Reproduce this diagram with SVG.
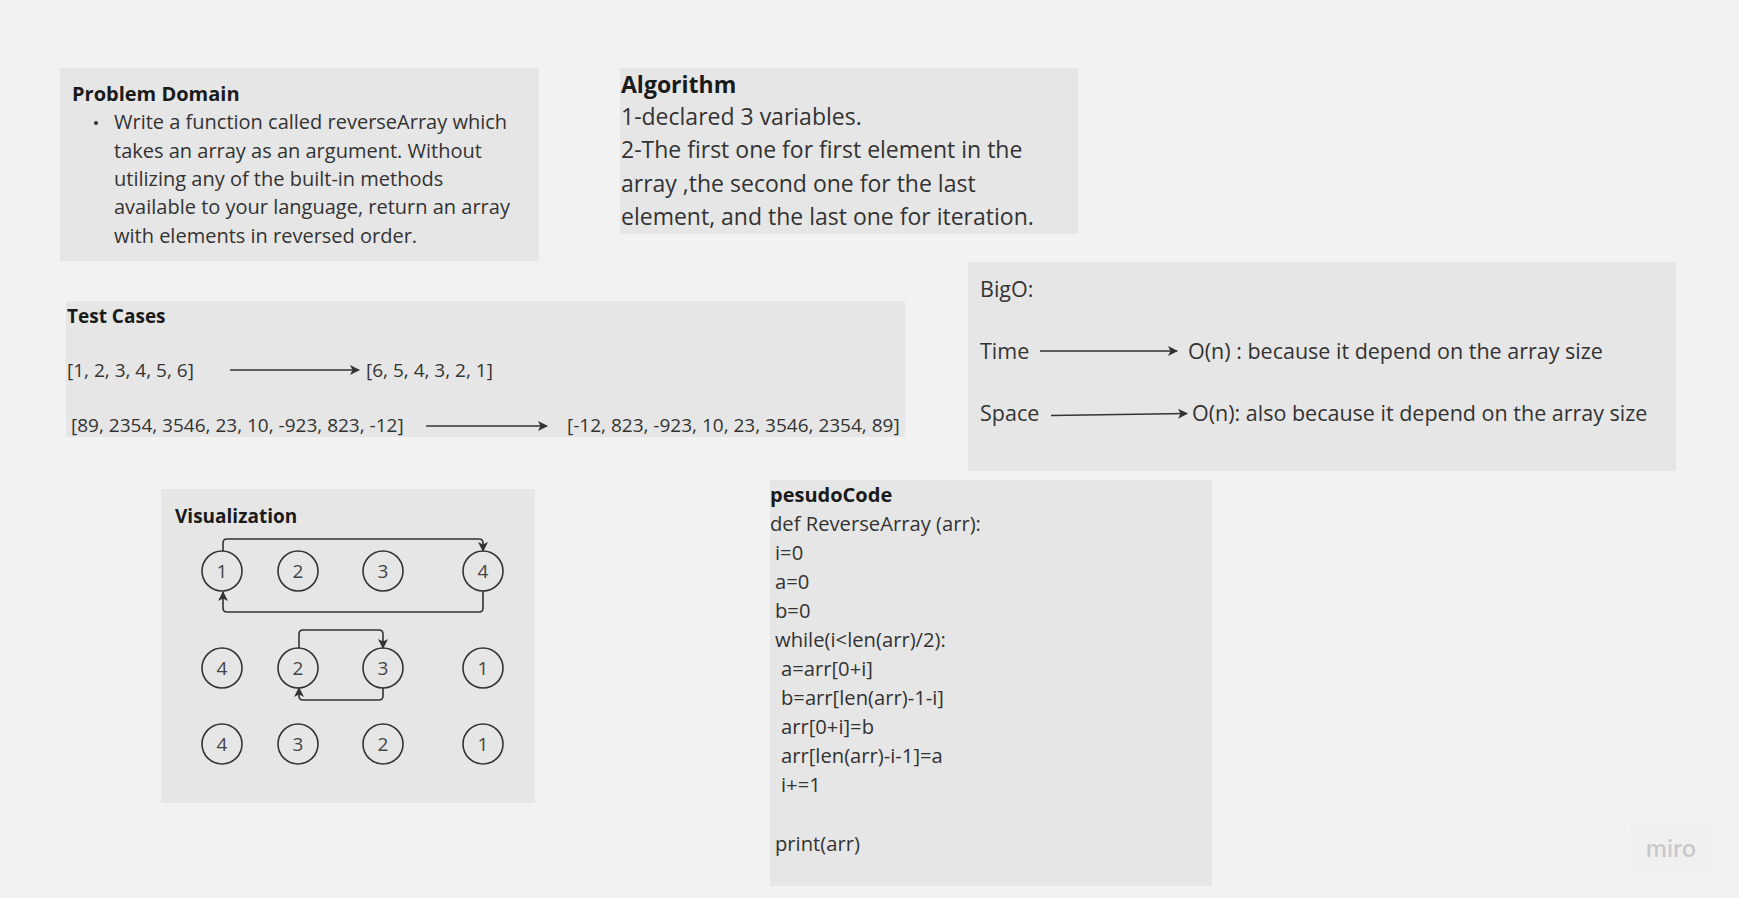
<svg xmlns="http://www.w3.org/2000/svg" width="1739" height="898" viewBox="0 0 1739 898">
<style>
text{font-family:"Open Sans","Noto Sans","DejaVu Sans",sans-serif;fill:#333333}
.title{font-weight:bold;font-size:19px;fill:#1a1a1a}
.body{font-size:20px}
.alg{font-size:23px}
.big{font-size:21.5px}
.tc{font-size:19px}
.code{font-size:20.2px}
.num{font-size:19px;text-anchor:middle;fill:#444444}
.box{fill:#e6e6e6}
.circ{fill:none;stroke:#333333;stroke-width:1.6}
.conn{fill:none;stroke:#333333;stroke-width:1.6;stroke-linejoin:round}
</style>
<defs>
<marker id="ah" viewBox="0 0 10 10" refX="9" refY="5" markerWidth="10" markerHeight="10" markerUnits="userSpaceOnUse" orient="auto">
<path d="M0,0 L10,5 L0,10 L2.5,5 Z" fill="#333333"/>
</marker>
</defs>
<rect x="0" y="0" width="1739" height="898" fill="#f2f2f2"/>

<g id="problem-domain">
<rect class="box" x="60" y="68" width="479" height="193"/>
<text class="title" x="72" y="101" style="font-size:20px">Problem Domain</text>
<circle cx="96" cy="123" r="2" fill="#333333"/>
<text class="body" x="114" y="129">Write a function called reverseArray which</text>
<text class="body" x="114" y="158">takes an array as an argument. Without</text>
<text class="body" x="114" y="186">utilizing any of the built-in methods</text>
<text class="body" x="114" y="214">available to your language, return an array</text>
<text class="body" x="114" y="243">with elements in reversed order.</text>
</g>

<g id="algorithm">
<rect class="box" x="620" y="68" width="458" height="166"/>
<text class="title" x="621" y="93" style="font-size:23px">Algorithm</text>
<text class="alg" x="621" y="125">1-declared 3 variables.</text>
<text class="alg" x="621" y="158">2-The first one for first element in the</text>
<text class="alg" x="621" y="192">array ,the second one for the last</text>
<text class="alg" x="621" y="225">element, and the last one for iteration.</text>
</g>

<g id="test-cases">
<rect class="box" x="66" y="301" width="839" height="136"/>
<text class="title" x="67" y="323">Test Cases</text>
<text class="tc" x="67" y="377">[1, 2, 3, 4, 5, 6]</text>
<text class="tc" x="366" y="377">[6, 5, 4, 3, 2, 1]</text>
<text class="tc" x="71" y="432">[89, 2354, 3546, 23, 10, -923, 823, -12]</text>
<text class="tc" x="567" y="432">[-12, 823, -923, 10, 23, 3546, 2354, 89]</text>
</g>

<g id="bigo">
<rect class="box" x="968" y="262" width="708" height="209"/>
<text class="big" x="980" y="297">BigO:</text>
<text class="big" x="980" y="359">Time</text>
<text class="big" x="1188" y="359">O(n) : because it depend on the array size</text>
<text class="big" x="980" y="421">Space</text>
<text class="big" x="1192" y="421">O(n): also because it depend on the array size</text>
</g>

<g id="visualization">
<rect class="box" x="161" y="489" width="374" height="314"/>
<text class="title" x="175" y="523">Visualization</text>
<circle class="circ" cx="222" cy="571" r="20"/><text class="num" x="222" y="578">1</text>
<circle class="circ" cx="298" cy="571" r="20"/><text class="num" x="298" y="578">2</text>
<circle class="circ" cx="383" cy="571" r="20"/><text class="num" x="383" y="578">3</text>
<circle class="circ" cx="483" cy="571" r="20"/><text class="num" x="483" y="578">4</text>
<circle class="circ" cx="222" cy="668" r="20"/><text class="num" x="222" y="675">4</text>
<circle class="circ" cx="298" cy="668" r="20"/><text class="num" x="298" y="675">2</text>
<circle class="circ" cx="383" cy="668" r="20"/><text class="num" x="383" y="675">3</text>
<circle class="circ" cx="483" cy="668" r="20"/><text class="num" x="483" y="675">1</text>
<circle class="circ" cx="222" cy="744" r="20"/><text class="num" x="222" y="751">4</text>
<circle class="circ" cx="298" cy="744" r="20"/><text class="num" x="298" y="751">3</text>
<circle class="circ" cx="383" cy="744" r="20"/><text class="num" x="383" y="751">2</text>
<circle class="circ" cx="483" cy="744" r="20"/><text class="num" x="483" y="751">1</text>
</g>

<g id="pseudocode">
<rect class="box" x="770" y="480" width="442" height="406"/>
<text class="title" x="770" y="502" style="font-size:20px">pesudoCode</text>
<text class="code" x="770" y="531">def ReverseArray (arr):</text>
<text class="code" x="775" y="560">i=0</text>
<text class="code" x="775" y="589">a=0</text>
<text class="code" x="775" y="618">b=0</text>
<text class="code" x="775" y="647">while(i&lt;len(arr)/2):</text>
<text class="code" x="781" y="676">a=arr[0+i]</text>
<text class="code" x="781" y="705">b=arr[len(arr)-1-i]</text>
<text class="code" x="781" y="734">arr[0+i]=b</text>
<text class="code" x="781" y="763">arr[len(arr)-i-1]=a</text>
<text class="code" x="781" y="792">i+=1</text>
<text class="code" x="775" y="851">print(arr)</text>
</g>

<g id="connectors">
<line class="conn" x1="230" y1="370" x2="359" y2="370" marker-end="url(#ah)"/>
<line class="conn" x1="426" y1="426" x2="547" y2="426" marker-end="url(#ah)"/>
<line class="conn" x1="1040" y1="351" x2="1177" y2="351" marker-end="url(#ah)"/>
<line class="conn" x1="1051" y1="415.5" x2="1187" y2="413.5" marker-end="url(#ah)"/>
<path class="conn" d="M223,551 V543 Q223,539 227,539 H479 Q483,539 483,543 V551" marker-end="url(#ah)"/>
<path class="conn" d="M483,591 V608 Q483,612 479,612 H227 Q223,612 223,608 V592" marker-end="url(#ah)"/>
<path class="conn" d="M299,648 V634 Q299,630 303,630 H379 Q383,630 383,634 V648" marker-end="url(#ah)"/>
<path class="conn" d="M383,688 V696 Q383,700 379,700 H303 Q299,700 299,696 V688" marker-end="url(#ah)"/>
</g>

<g id="miro-logo">
<rect x="1630" y="827" width="82" height="45" rx="3" fill="#f0f0f0"/>
<text x="1671" y="857" style="font-size:24px;font-weight:500;fill:#c8c8cc;text-anchor:middle;font-family:Inter,'Open Sans',sans-serif">miro</text>
</g>
</svg>
